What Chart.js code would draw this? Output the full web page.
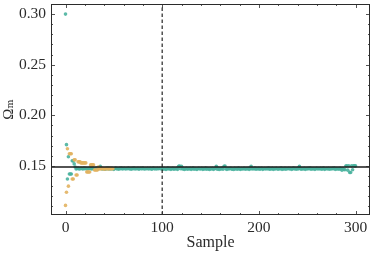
<!DOCTYPE html>
<html>
<head>
<meta charset="utf-8">
<script src="https://cdn.jsdelivr.net/npm/chart.js@4"></script>
<style>
  html, body { margin: 0; padding: 0; background: #fff; }
</style>
</head>
<body>
<canvas id="myChart" width="374" height="253"></canvas>
<script>
// values, x is the sample index
var tealValues = [
    0.300, 0.171, 0.137, 0.159, 0.142, 0.142, 0.142, 0.155, 0.155, 0.152,
    0.149, 0.1470, 0.1475, 0.1478, 0.1470, 0.1472, 0.1476, 0.1474, 0.1470, 0.1478,
    0.1473, 0.1477, 0.1470, 0.1475, 0.1472, 0.1478, 0.1474, 0.1469, 0.1476, 0.1473,
    0.1471, 0.1477, 0.1474, 0.1479, 0.1472, 0.1475, 0.1497, 0.1476, 0.1470, 0.1474,
    0.1473, 0.1468, 0.1476, 0.1472, 0.1478, 0.1470, 0.1474, 0.1469, 0.1477, 0.1473,
    0.1466, 0.1475, 0.1479, 0.1471, 0.1474, 0.1468, 0.1476, 0.1473, 0.1478, 0.1470,
    0.1474, 0.1477, 0.1469, 0.1475, 0.1472, 0.1478, 0.1471, 0.1474, 0.1467, 0.1476,
    0.1473, 0.1479, 0.1470, 0.1475, 0.1472, 0.1477, 0.1468, 0.1474, 0.1476, 0.1471,
    0.1478, 0.1473, 0.1469, 0.1475, 0.1472, 0.1477, 0.1470, 0.1474, 0.1476, 0.1468,
    0.1473, 0.1478, 0.1471, 0.1475, 0.1469, 0.1476, 0.1472, 0.1474, 0.1477, 0.1470,
    0.1474, 0.1467, 0.1476, 0.1471, 0.1465, 0.1473, 0.1478, 0.1469, 0.1475, 0.1466,
    0.1472, 0.1477, 0.1468, 0.1474, 0.1470, 0.1476, 0.1466, 0.1495, 0.1498, 0.1473,
    0.1496, 0.1469, 0.1475, 0.1465, 0.1472, 0.1477, 0.1467, 0.1474, 0.1470, 0.1476,
    0.1466, 0.1473, 0.1478, 0.1468, 0.1475, 0.1471, 0.1465, 0.1474, 0.1477, 0.1469,
    0.1472, 0.1476, 0.1466, 0.1473, 0.1470, 0.1478, 0.1467, 0.1474, 0.1471, 0.1465,
    0.1475, 0.1469, 0.1477, 0.1466, 0.1472, 0.1474, 0.1496, 0.1468, 0.1476, 0.1465,
    0.1473, 0.1470, 0.1478, 0.1467, 0.1497, 0.1499, 0.1471, 0.1466, 0.1475, 0.1469,
    0.1474, 0.1477, 0.1468, 0.1472, 0.1465, 0.1476, 0.1470, 0.1474, 0.1467, 0.1478,
    0.1471, 0.1466, 0.1475, 0.1469, 0.1473, 0.1477, 0.1468, 0.1474, 0.1470, 0.1476,
    0.1466, 0.1473, 0.1496, 0.1469, 0.1475, 0.1471, 0.1478, 0.1467, 0.1474, 0.1470,
    0.1476, 0.1468, 0.1473, 0.1477, 0.1466, 0.1472, 0.1475, 0.1469, 0.1474, 0.1471,
    0.1478, 0.1467, 0.1473, 0.1470, 0.1476, 0.1466, 0.1474, 0.1469, 0.1477, 0.1472,
    0.1468, 0.1475, 0.1471, 0.1478, 0.1466, 0.1473, 0.1470, 0.1476, 0.1467, 0.1474,
    0.1472, 0.1477, 0.1469, 0.1475, 0.1466, 0.1473, 0.1478, 0.1470, 0.1474, 0.1468,
    0.1476, 0.1471, 0.1495, 0.1473, 0.1467, 0.1475, 0.1470, 0.1477, 0.1466, 0.1474,
    0.1469, 0.1476, 0.1472, 0.1478, 0.1467, 0.1474, 0.1470, 0.1475, 0.1466, 0.1473,
    0.1477, 0.1469, 0.1474, 0.1471, 0.1476, 0.1468, 0.1473, 0.1478, 0.1466, 0.1472,
    0.1475, 0.1470, 0.1477, 0.1467, 0.1474, 0.1469, 0.1476, 0.1472, 0.1478, 0.1466,
    0.1473, 0.1470, 0.1475, 0.1468, 0.1477, 0.1471, 0.1458, 0.1474, 0.1466, 0.1462,
    0.1499, 0.1501, 0.1458, 0.1502, 0.1436, 0.1435, 0.1500, 0.1462, 0.1501, 0.1502,
    0.1500
];
var orangeValues = [
    0.111, 0.124, 0.167, 0.130, 0.162, 0.162, 0.162, 0.137, 0.137, 0.156,
    0.156, 0.141, 0.141, 0.154, 0.154, 0.154, 0.153, 0.153, 0.153, 0.153,
    0.153, 0.153, 0.144, 0.144, 0.144, 0.144, 0.151, 0.151, 0.151, 0.151,
    0.146, 0.146, 0.146, 0.146, 0.149, 0.1470, 0.1474, 0.1470, 0.1477, 0.1472,
    0.1468, 0.1475, 0.1471, 0.1476, 0.1469, 0.1473, 0.1478, 0.1470, 0.1474, 0.1472
];
var refValue = 0.149;
var splitSample = 100;
var xRange = [-15, 315];
var yRange = [0.1015, 0.310];
var xTicks = [0, 100, 200, 300];
var yTicks = [0.15, 0.20, 0.25, 0.30];
var xMinorStep = 20;
var yMinorStep = 0.01;

var toPoints = function (values) {
    var pts = [];
    for (var i = 0; i < values.length; i++) {
        pts.push({ x: i, y: values[i] });
    }
    return pts;
};

var fontFamily = "'Liberation Serif', 'DejaVu Serif', serif";
var inkColor = '#2b2b2b';

// ticks pointing into the plot, on all four sides, majors and minors
var insideTicks = {
    id: 'insideTicks',
    afterDraw: function (chart) {
        var ctx = chart.ctx;
        var area = chart.chartArea;
        var xs = chart.scales.x;
        var ys = chart.scales.y;
        ctx.save();
        ctx.strokeStyle = inkColor;
        ctx.lineWidth = 0.8;
        ctx.beginPath();
        var v, px, len;
        for (v = Math.ceil(xRange[0] / xMinorStep) * xMinorStep; v <= xRange[1]; v += xMinorStep) {
            px = Math.round(xs.getPixelForValue(v)) + 0.5;
            len = (xTicks.indexOf(v) >= 0) ? 4 : 2;
            ctx.moveTo(px, area.bottom); ctx.lineTo(px, area.bottom - len);
            ctx.moveTo(px, area.top); ctx.lineTo(px, area.top + len);
        }
        for (var k = Math.ceil(yRange[0] / yMinorStep); k * yMinorStep <= yRange[1]; k++) {
            v = k * yMinorStep;
            px = Math.round(ys.getPixelForValue(v)) + 0.5;
            len = (k % 5 === 0) ? 4 : 2;
            ctx.moveTo(area.left, px); ctx.lineTo(area.left + len, px);
            ctx.moveTo(area.right, px); ctx.lineTo(area.right - len, px);
        }
        ctx.stroke();
        ctx.lineWidth = 1;
        ctx.strokeRect(area.left + 0.5, area.top + 0.5, area.right - area.left - 1, area.bottom - area.top - 1);
        ctx.restore();
    }
};

var ctx = document.getElementById('myChart').getContext('2d');
var chart = new Chart(ctx, {
    type: 'scatter',
    data: {
        datasets: [
            {
                label: 'ref',
                type: 'line',
                data: [{ x: xRange[0], y: refValue }, { x: xRange[1], y: refValue }],
                borderColor: '#1a1a1a',
                borderWidth: 1.6,
                pointRadius: 0,
                order: 0
            },
            {
                label: 'split',
                type: 'line',
                data: [{ x: splitSample, y: yRange[0] }, { x: splitSample, y: yRange[1] }],
                borderColor: '#111',
                borderWidth: 1.1,
                borderDash: [3.5, 2.5],
                pointRadius: 0,
                order: 0
            },
            {
                label: 'orange',
                data: toPoints(orangeValues),
                backgroundColor: 'rgba(226, 178, 96, 0.9)',
                borderWidth: 0,
                pointRadius: 1.8,
                order: 1
            },
            {
                label: 'teal',
                data: toPoints(tealValues),
                backgroundColor: 'rgba(74, 178, 158, 0.9)',
                borderWidth: 0,
                pointRadius: 1.8,
                order: 2
            }
        ]
    },
    options: {
        responsive: false,
        animation: false,
        layout: { padding: { top: 3, right: 3, left: 0, bottom: 0 } },
        plugins: {
            legend: { display: false },
            tooltip: { enabled: false }
        },
        scales: {
            x: {
                type: 'linear',
                min: xRange[0],
                max: xRange[1],
                grid: { display: false, drawTicks: false },
                border: { display: false },
                afterBuildTicks: function (scale) {
                    scale.ticks = xTicks.map(function (t) { return { value: t }; });
                },
                afterFit: function (scale) {
                    scale.height = 38;
                    scale.paddingLeft = 0;
                    scale.paddingRight = 0;
                },
                ticks: {
                    padding: 4,
                    color: inkColor,
                    font: { family: fontFamily, size: 15.5 },
                    maxRotation: 0,
                    callback: function (v) { return String(v); }
                },
                title: {
                    display: true,
                    text: 'Sample',
                    color: inkColor,
                    font: { family: fontFamily, size: 16 },
                    padding: { top: 0, bottom: 1 }
                }
            },
            y: {
                min: yRange[0],
                max: yRange[1],
                grid: { display: false, drawTicks: false },
                border: { display: false },
                afterBuildTicks: function (scale) {
                    scale.ticks = yTicks.map(function (t) { return { value: t }; });
                },
                afterFit: function (scale) {
                    scale.width = 51;
                    scale.paddingTop = 0;
                    scale.paddingBottom = 0;
                },
                ticks: {
                    padding: 5,
                    color: inkColor,
                    font: { family: fontFamily, size: 15.5 },
                    callback: function (v) { return v.toFixed(2); }
                },
                title: {
                    display: true,
                    text: 'Ωₘ',
                    color: inkColor,
                    font: { family: fontFamily, size: 15 },
                    padding: { top: 0, bottom: 0 }
                }
            }
        }
    },
    plugins: [insideTicks]
});
</script>
</body>
</html>
